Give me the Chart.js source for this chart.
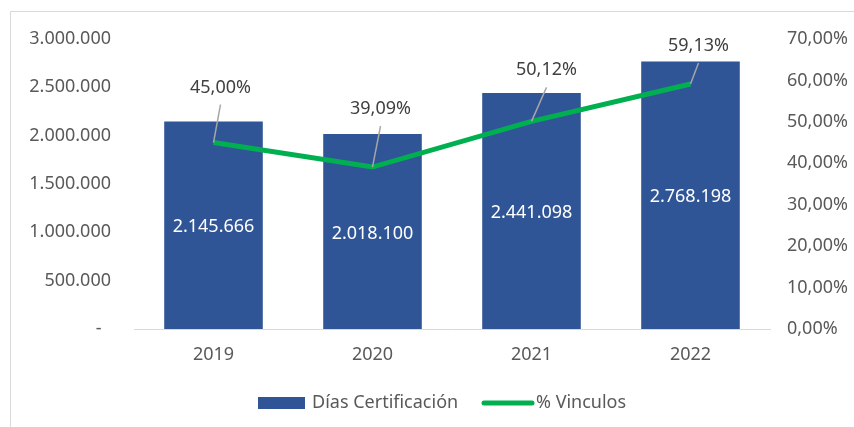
<!DOCTYPE html>
<html>
<head>
<meta charset="utf-8">
<script src="https://cdn.jsdelivr.net/npm/chart.js@4.4.1/dist/chart.umd.min.js"></script>
<style>
  html, body { margin: 0; padding: 0; background: #ffffff; }
  #wrap { width: 854px; height: 427px; position: relative; }
</style>
</head>
<body>
<div id="wrap"><canvas id="c" width="854" height="427"></canvas></div>
<script>
const categories = ['2019', '2020', '2021', '2022'];
const diasCertificacion = [2145666, 2018100, 2441098, 2768198];
const pctVinculos = [45.00, 39.09, 50.12, 59.13];
const leftTicks = [0, 500000, 1000000, 1500000, 2000000, 2500000, 3000000];
const rightTicks = [0, 10, 20, 30, 40, 50, 60, 70];
const seriesNames = ['Días Certificación', '% Vinculos'];

// style-only: manual label offsets (as placed in the original)
const lineLabelOffsets = [[7, -55], [8, -58], [15, -51], [8, -38]];

const BAR = '#2F5597';
const GREEN = '#00B050';
const FONT = '"Noto Sans", "Open Sans", sans-serif';

function fmtThousands(v) {
  if (v === 0) return '-  ';
  return String(Math.round(v)).replace(/\B(?=(\d{3})+(?!\d))/g, '.');
}
function fmtPct(v) {
  return v.toFixed(2).replace('.', ',') + '%';
}

const framePlugin = {
  id: 'frame',
  beforeDraw(chart) {
    const ctx = chart.ctx;
    ctx.save();
    ctx.strokeStyle = '#d9d9d9';
    ctx.lineWidth = 1;
    ctx.beginPath();
    ctx.moveTo(10.5, 427);
    ctx.lineTo(10.5, 11.5);
    ctx.lineTo(854, 11.5);
    ctx.stroke();
    ctx.restore();
  }
};

const labelsPlugin = {
  id: 'labels',
  afterDatasetsDraw(chart) {
    const ctx = chart.ctx;
    ctx.save();
    ctx.font = '18px ' + FONT;
    ctx.textAlign = 'center';
    ctx.textBaseline = 'middle';
    const barMeta = chart.getDatasetMeta(0);
    barMeta.data.forEach((el, i) => {
      const p = el.getProps(['x', 'y', 'base'], true);
      ctx.fillStyle = '#ffffff';
      ctx.fillText(fmtThousands(diasCertificacion[i]), p.x, (p.y + p.base) / 2 + 2);
    });
    const lineMeta = chart.getDatasetMeta(1);
    lineMeta.data.forEach((el, i) => {
      const p = el.getProps(['x', 'y'], true);
      const off = lineLabelOffsets[i];
      const lx = p.x + off[0];
      const ly = p.y + off[1];
      ctx.strokeStyle = '#a6a6a6';
      ctx.lineWidth = 1.5;
      ctx.beginPath();
      ctx.moveTo(p.x, p.y);
      ctx.lineTo(lx, ly + 17);
      ctx.stroke();
      ctx.fillStyle = '#404040';
      ctx.fillText(fmtPct(pctVinculos[i]), lx, ly);
    });
    ctx.restore();
  },
  afterDraw(chart) {
    const ctx = chart.ctx;
    ctx.save();
    ctx.font = '18px ' + FONT;
    ctx.textBaseline = 'middle';
    ctx.textAlign = 'left';
    const y = 403;
    ctx.fillStyle = BAR;
    ctx.fillRect(258, y - 6, 47, 12);
    ctx.fillStyle = '#595959';
    ctx.fillText(seriesNames[0], 312, y);
    ctx.strokeStyle = GREEN;
    ctx.lineWidth = 5;
    ctx.lineCap = 'round';
    ctx.beginPath();
    ctx.moveTo(484, y);
    ctx.lineTo(532, y);
    ctx.stroke();
    ctx.fillText(seriesNames[1], 536, y);
    ctx.restore();
  }
};

new Chart(document.getElementById('c'), {
  data: {
    labels: categories,
    datasets: [
      {
        type: 'bar',
        label: seriesNames[0],
        data: diasCertificacion,
        backgroundColor: BAR,
        yAxisID: 'y',
        order: 1,
        categoryPercentage: 1.0,
        barPercentage: 0.62
      },
      {
        type: 'line',
        label: seriesNames[1],
        data: pctVinculos,
        borderColor: GREEN,
        borderWidth: 5,
        pointRadius: 0,
        tension: 0,
        yAxisID: 'y1',
        order: 0
      }
    ]
  },
  options: {
    responsive: false,
    animation: false,
    devicePixelRatio: 1,
    layout: { padding: { left: 0, right: 0, top: 39, bottom: 0 } },
    plugins: {
      legend: { display: false },
      tooltip: { enabled: false }
    },
    scales: {
      x: {
        grid: { display: false, drawTicks: false },
        border: { display: true, color: '#d9d9d9', width: 1 },
        ticks: { color: '#595959', font: { size: 18, family: FONT }, padding: 15 },
        afterFit(s) { s.height = 98; }
      },
      y: {
        position: 'left',
        min: 0,
        max: 3000000,
        grid: { display: false, drawTicks: false },
        border: { display: false },
        afterBuildTicks(s) { s.ticks = leftTicks.map(v => ({ value: v })); },
        ticks: {
          color: '#595959',
          font: { size: 18, family: FONT },
          padding: 23,
          callback: (v) => fmtThousands(v)
        },
        afterFit(s) { s.width = 134; }
      },
      y1: {
        position: 'right',
        min: 0,
        max: 70,
        grid: { display: false, drawTicks: false },
        border: { display: false },
        afterBuildTicks(s) { s.ticks = rightTicks.map(v => ({ value: v })); },
        ticks: {
          color: '#595959',
          font: { size: 18, family: FONT },
          padding: 17,
          callback: (v) => fmtPct(v)
        },
        afterFit(s) { s.width = 84; }
      }
    }
  },
  plugins: [framePlugin, labelsPlugin]
});
</script>
</body>
</html>
